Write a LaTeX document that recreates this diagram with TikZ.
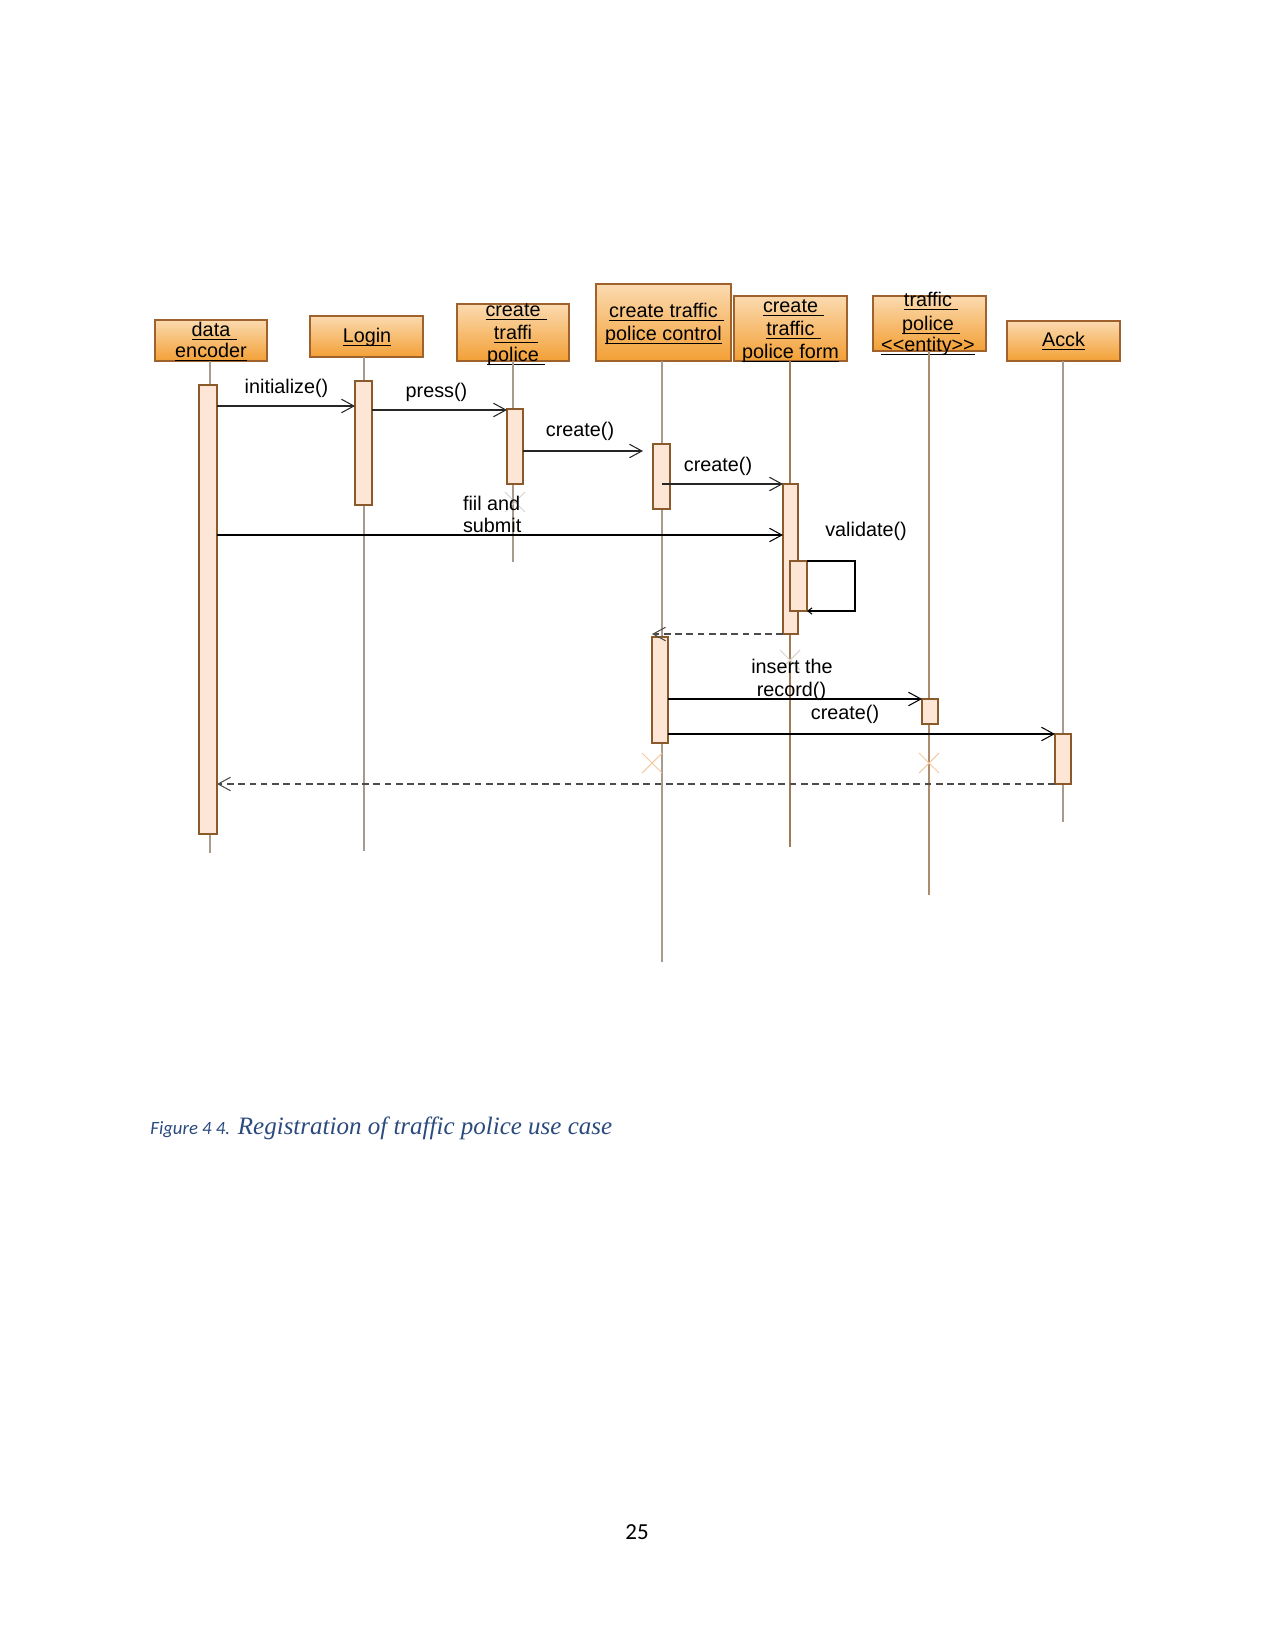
\documentclass[tikz,border=0pt]{standalone}
\usepackage{fontspec}
\setmainfont{Liberation Sans}
\newfontfamily\carlito{Carlito}
\newfontfamily\capserif{Liberation Serif}
\usetikzlibrary{arrows.meta}
\definecolor{boxtop}{HTML}{FBDAB0}
\definecolor{boxbot}{HTML}{F3A035}
\definecolor{boxline}{HTML}{A0622D}
\definecolor{actfill}{HTML}{FDE6D5}
\definecolor{actline}{HTML}{8B5A2B}
\definecolor{lifecol}{HTML}{A89A8C}
\definecolor{capblue}{HTML}{2B4A7E}
\definecolor{xorange}{HTML}{F3C89C}
\definecolor{xgray}{HTML}{D8D2CC}
\newcommand\uln[1]{\setbox0\hbox{#1}\rlap{\rule[-1.7pt]{\wd0}{0.5pt}}\box0}
\newcommand\ulns[1]{\uln{#1}\rlap{\rule[-1.7pt]{3pt}{0.5pt}}}
\tikzset{
  obj/.style={draw=boxline, line width=0.6pt, top color=boxtop, bottom color=boxbot, inner sep=0pt, outer sep=0pt},
  lbl/.style={font=\fontsize{9.5}{10.8}\selectfont, anchor=base, inner sep=0pt, outer sep=0pt},
  act/.style={draw=actline, fill=actfill, line width=0.6pt, inner sep=0pt, outer sep=0pt},
  life/.style={draw=lifecol, line width=0.5pt},
  msg/.style={draw=black!85, line width=0.6pt, -{Straight Barb[length=6pt,width=6.5pt,line width=0.5pt]}},
  ret/.style={msg, draw=black!70, line width=0.8pt, dash pattern=on 3.2pt off 2.2pt},
  xmo/.style={draw=xorange, line width=0.5pt},
  xmg/.style={draw=xgray, line width=0.5pt}
}
\begin{document}
\begin{tikzpicture}[x=0.48pt, y=-0.48pt]
\fill[white] (0,0) rectangle (1275,1651);
\useasboundingbox (0,0) rectangle (1275,1651);

% object boxes
\node[obj, minimum width=112*0.48pt, minimum height=41*0.48pt] (b_de) at (211,340.5) {};
\node[obj, minimum width=113*0.48pt, minimum height=41*0.48pt] (b_login) at (366.5,336.5) {};
\node[obj, minimum width=112*0.48pt, minimum height=57*0.48pt] (b_ctp) at (513,332.5) {};
\node[obj, minimum width=135*0.48pt, minimum height=77*0.48pt] (b_ctrl) at (663.5,322.5) {};
\node[obj, minimum width=113*0.48pt, minimum height=65*0.48pt] (b_form) at (790.5,328.5) {};
\node[obj, minimum width=113*0.48pt, minimum height=55*0.48pt] (b_ent) at (929.5,323.5) {};
\node[obj, minimum width=113*0.48pt, minimum height=40*0.48pt] (b_acck) at (1063.5,341) {};

% box labels
\node[lbl] (t_de1) at (211,336) {\ulns{data}};
\node[lbl] (t_de2) at (211,357) {\uln{encoder}};
\node[lbl] (t_login) at (367,342.5) {\uln{Login}};
\node[lbl] (t_ctp1) at (513,316.5) {\ulns{create}};
\node[lbl] (t_ctp2) at (513,339) {\ulns{traffi}};
\node[lbl] (t_ctp3) at (513,361.5) {\ulns{police}};
\node[lbl] (t_ctrl1) at (663.5,317) {\ulns{create traffic}};
\node[lbl] (t_ctrl2) at (663.5,340) {\uln{police control}};
\node[lbl] (t_form1) at (790.5,312) {\ulns{create}};
\node[lbl] (t_form2) at (790.5,335) {\ulns{traffic}};
\node[lbl] (t_form3) at (790.5,358) {\uln{police form}};
\node[lbl] (t_ent1) at (928,306.5) {\ulns{traffic}};
\node[lbl] (t_ent2) at (928,330) {\ulns{police}};
\node[lbl] (t_ent3) at (928,351.5) {\uln{\symbol{60}\symbol{60}entity\symbol{62}\symbol{62}}};
\node[lbl] (t_acck) at (1063.5,346.5) {\uln{Acck}};

% lifeline ends
\coordinate (e_de) at (210,853);
\coordinate (e_login) at (364,851);
\coordinate (e_ctp) at (513,562);
\coordinate (e_ctrl) at (662,962);
\coordinate (e_form) at (790,847);
\coordinate (e_ent) at (929,895);
\coordinate (e_acck) at (1063,822);

\draw[life] (b_de.south -| e_de) -- (e_de);
\draw[life] (b_login.south -| e_login) -- (e_login);
\draw[life] (b_ctp.south) -- (e_ctp);
\draw[life] (b_ctrl.south -| e_ctrl) -- (e_ctrl);
\draw[life, draw=actline!80] (b_form.south -| e_form) -- (e_form);
\draw[life, draw=actline!70] (b_ent.south -| e_ent) -- (e_ent);
\draw[life] (b_acck.south -| e_acck) -- (e_acck);

% destruction marks
\draw[xmg] (505,492) -- (525,512) (505,512) -- (525,492);
\draw[xmg] (780,650) -- (800,670) (780,670) -- (800,650);
\draw[xmo] (642,753) -- (662,773) (642,773) -- (662,753);
\draw[xmo] (919,753) -- (939,773) (919,773) -- (939,753);

% activation bars
\node[act, minimum width=18*0.48pt, minimum height=449*0.48pt] (a_de) at (208,609.5) {};
\node[act, minimum width=17*0.48pt, minimum height=124*0.48pt] (a_login) at (363.5,443) {};
\node[act, minimum width=16*0.48pt, minimum height=75*0.48pt] (a_ctp) at (515,446.5) {};
\node[act, minimum width=17*0.48pt, minimum height=65*0.48pt] (a_ctrl1) at (661.5,476.5) {};
\node[act, minimum width=15*0.48pt, minimum height=150*0.48pt] (a_form) at (790.5,559) {};
\node[act, minimum width=17*0.48pt, minimum height=50*0.48pt] (a_val) at (798.5,586) {};
\node[act, minimum width=16*0.48pt, minimum height=106*0.48pt] (a_ctrl2) at (660,690) {};
\node[act, minimum width=16*0.48pt, minimum height=25*0.48pt] (a_ent) at (930,711.5) {};
\node[act, minimum width=16*0.48pt, minimum height=50*0.48pt] (a_acck) at (1063,759) {};

% messages
\draw[msg] (a_de.east |- 0,406) -- (a_login.west |- 0,406);
\draw[msg] (a_login.east |- 0,410) -- (a_ctp.west |- 0,410);
\draw[msg, shorten >=4.8pt] (a_ctp.east |- 0,451) -- (a_ctrl1.west |- 0,451);
\draw[msg] (a_ctrl1.center |- a_form.north west) -- (a_form.north west);
\draw[msg, draw=black] (a_de.east |- 0,535) -- (a_form.west |- 0,535);
\coordinate (v_c) at (855,586);
\draw[draw=black, line width=0.6pt, -{Straight Barb[length=2pt,width=3pt,line width=0.5pt]}] (a_val.north east) -| (v_c) |- (a_val.south east);
\draw[ret] (a_form.south west) -- (a_ctrl2.west |- a_form.south west);
\draw[msg, draw=black] (a_ctrl2.east |- a_ent.north west) -- (a_ent.north west);
\draw[msg, draw=black] (a_ctrl2.east |- a_acck.north west) -- (a_acck.north west);
\draw[ret] (a_acck.south west) -- (a_de.east |- a_acck.south west);

% message labels
\node[lbl] (l_init) at (286.5,393) {initialize()};
\node[lbl] (l_press) at (436.5,397) {press()};
\node[lbl] (l_cr1) at (580,436) {create()};
\node[lbl] (l_cr2) at (718,471) {create()};
\node[lbl, anchor=base west] (l_fill1) at (463,510) {fiil and};
\node[lbl, anchor=base west] (l_fill2) at (463,532) {submit};
\node[lbl] (l_val) at (866,536) {validate()};
\node[lbl] (l_ins1) at (792,673) {insert the};
\node[lbl] (l_ins2) at (791.5,696) {record()};
\node[lbl] (l_cr3) at (845,719) {create()};

% caption and page number
\node[anchor=base west, inner sep=0pt, text=capblue] (cap) at (150,1134)
  {{\carlito\itshape\fontsize{9}{11}\selectfont Figure 4 4.} {\capserif\itshape\fontsize{12}{14}\selectfont Registration of traffic police use case}};
\node[anchor=base, inner sep=0pt] (pg) at (637,1539) {\carlito\fontsize{11}{13}\selectfont 25};
\end{tikzpicture}
\end{document}
